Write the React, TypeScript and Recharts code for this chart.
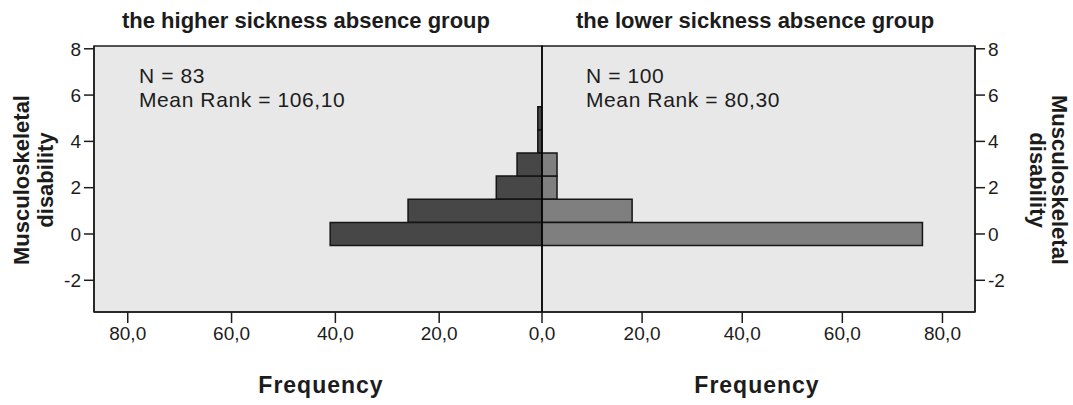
import { BarChart, Bar, XAxis, YAxis, CartesianGrid, ReferenceLine, ReferenceArea } from "recharts";

// musculoskeletal disability score (bar centres) and frequencies per group
const disability = [0, 1, 2, 3, 4, 5];
const higherFreq = [41, 26, 9, 5, 1, 1];
const lowerFreq = [76, 18, 3, 3, 0, 0];

const leftFreqTicks = [20, 40, 60, 80];
const rightFreqTicks = [0, 20, 40, 60, 80];
const disabilityTicks = [-2, 0, 2, 4, 6, 8];

const X_MAX = 86.5;
const Y_DOMAIN: [number, number] = [-3.37, 8.12];

const FONT = "'Liberation Sans', Arial, sans-serif";
const INK = "#1c1c1c";

const fmtFreq = (v: number) => v.toFixed(1).replace(".", ",");

const tickStyle = { fontSize: 19, fill: INK, fontFamily: FONT };

export default function App() {
  const leftRows = disability.map((d, i) => ({ d, f: higherFreq[i] }));
  const rightRows = disability.map((d, i) => ({ d, f: lowerFreq[i] }));

  return (
    <div style={{ position: "absolute", left: 0, top: 0, width: 1073, height: 405, background: "#fff", fontFamily: FONT }}>
      {/* left panel: the higher sickness absence group */}
      <div style={{ position: "absolute", left: 0, top: 0 }}>
        <BarChart width={543} height={405} layout="vertical" data={leftRows} margin={{ top: 46, right: 0, left: 0, bottom: 0 }}>
          <CartesianGrid fill="#e8e8e8" horizontal={false} vertical={false} />
          <XAxis
            type="number"
            reversed
            domain={[0, X_MAX]}
            ticks={leftFreqTicks}
            interval={0}
            tickFormatter={fmtFreq}
            height={93}
            tick={tickStyle}
            tickSize={11}
            tickMargin={4}
            axisLine={{ stroke: INK, strokeWidth: 1.5 }}
            tickLine={{ stroke: INK, strokeWidth: 1.5 }}
            allowDataOverflow
          />
          <YAxis
            type="number"
            dataKey="d"
            reversed
            domain={Y_DOMAIN}
            ticks={disabilityTicks}
            interval={0}
            width={94}
            tick={tickStyle}
            tickSize={10}
            tickMargin={3}
            axisLine={{ stroke: INK, strokeWidth: 1.5 }}
            tickLine={{ stroke: INK, strokeWidth: 1.5 }}
            allowDataOverflow
          />
          <ReferenceArea x1={0} x2={X_MAX} y1={Y_DOMAIN[0]} y2={Y_DOMAIN[1]} fill="none" stroke={INK} strokeWidth={1.5} />
          <Bar dataKey="f" fill="#474747" stroke="#151515" strokeWidth={1.5} barSize={23} isAnimationActive={false} />
        </BarChart>
      </div>

      {/* right panel: the lower sickness absence group */}
      <div style={{ position: "absolute", left: 500, top: 0 }}>
        <BarChart width={573} height={405} layout="vertical" data={rightRows} margin={{ top: 46, right: 0, left: 42, bottom: 0 }}>
          <CartesianGrid fill="#e8e8e8" horizontal={false} vertical={false} />
          <XAxis
            type="number"
            domain={[0, X_MAX]}
            ticks={rightFreqTicks}
            interval={0}
            tickFormatter={fmtFreq}
            height={93}
            tick={tickStyle}
            tickSize={11}
            tickMargin={4}
            axisLine={{ stroke: INK, strokeWidth: 1.5 }}
            tickLine={{ stroke: INK, strokeWidth: 1.5 }}
            allowDataOverflow
          />
          <YAxis
            type="number"
            dataKey="d"
            reversed
            orientation="right"
            domain={Y_DOMAIN}
            ticks={disabilityTicks}
            interval={0}
            width={98}
            tick={tickStyle}
            tickSize={10}
            tickMargin={3}
            axisLine={{ stroke: INK, strokeWidth: 1.5 }}
            tickLine={{ stroke: INK, strokeWidth: 1.5 }}
            allowDataOverflow
          />
          <ReferenceArea x1={0} x2={X_MAX} y1={Y_DOMAIN[0]} y2={Y_DOMAIN[1]} fill="none" stroke={INK} strokeWidth={1.5} />
          <Bar dataKey="f" fill="#7f7f7f" stroke="#151515" strokeWidth={1.5} barSize={23} isAnimationActive={false} />
          <ReferenceLine x={0} stroke="#000" strokeWidth={1.5} />
        </BarChart>
      </div>

      {/* titles, annotations and axis titles */}
      <svg width={1073} height={405} style={{ position: "absolute", left: 0, top: 0, pointerEvents: "none" }}>
        <g fontFamily={FONT} fill={INK}>
          <text x={306} y={28} textAnchor="middle" fontSize={22} fontWeight="bold">the higher sickness absence group</text>
          <text x={755} y={28} textAnchor="middle" fontSize={22} fontWeight="bold">the lower sickness absence group</text>

          <g fontSize={21} letterSpacing={0.6}>
            <text x={139} y={83}>N = 83</text>
            <text x={139} y={107}>Mean Rank = 106,10</text>
            <text x={586} y={83}>N = 100</text>
            <text x={586} y={107}>Mean Rank = 80,30</text>
          </g>

          <text x={321} y={393} textAnchor="middle" fontSize={23} fontWeight="bold" letterSpacing={1}>Frequency</text>
          <text x={757} y={393} textAnchor="middle" fontSize={23} fontWeight="bold" letterSpacing={1}>Frequency</text>

          <g fontSize={22} fontWeight="bold" textAnchor="middle" dominantBaseline="central">
            <text transform="translate(21,180) rotate(-90)">Musculoskeletal</text>
            <text transform="translate(45,180) rotate(-90)">disability</text>
            <text transform="translate(1059,180) rotate(90)">Musculoskeletal</text>
            <text transform="translate(1037,180) rotate(90)">disability</text>
          </g>
        </g>
      </svg>
    </div>
  );
}
